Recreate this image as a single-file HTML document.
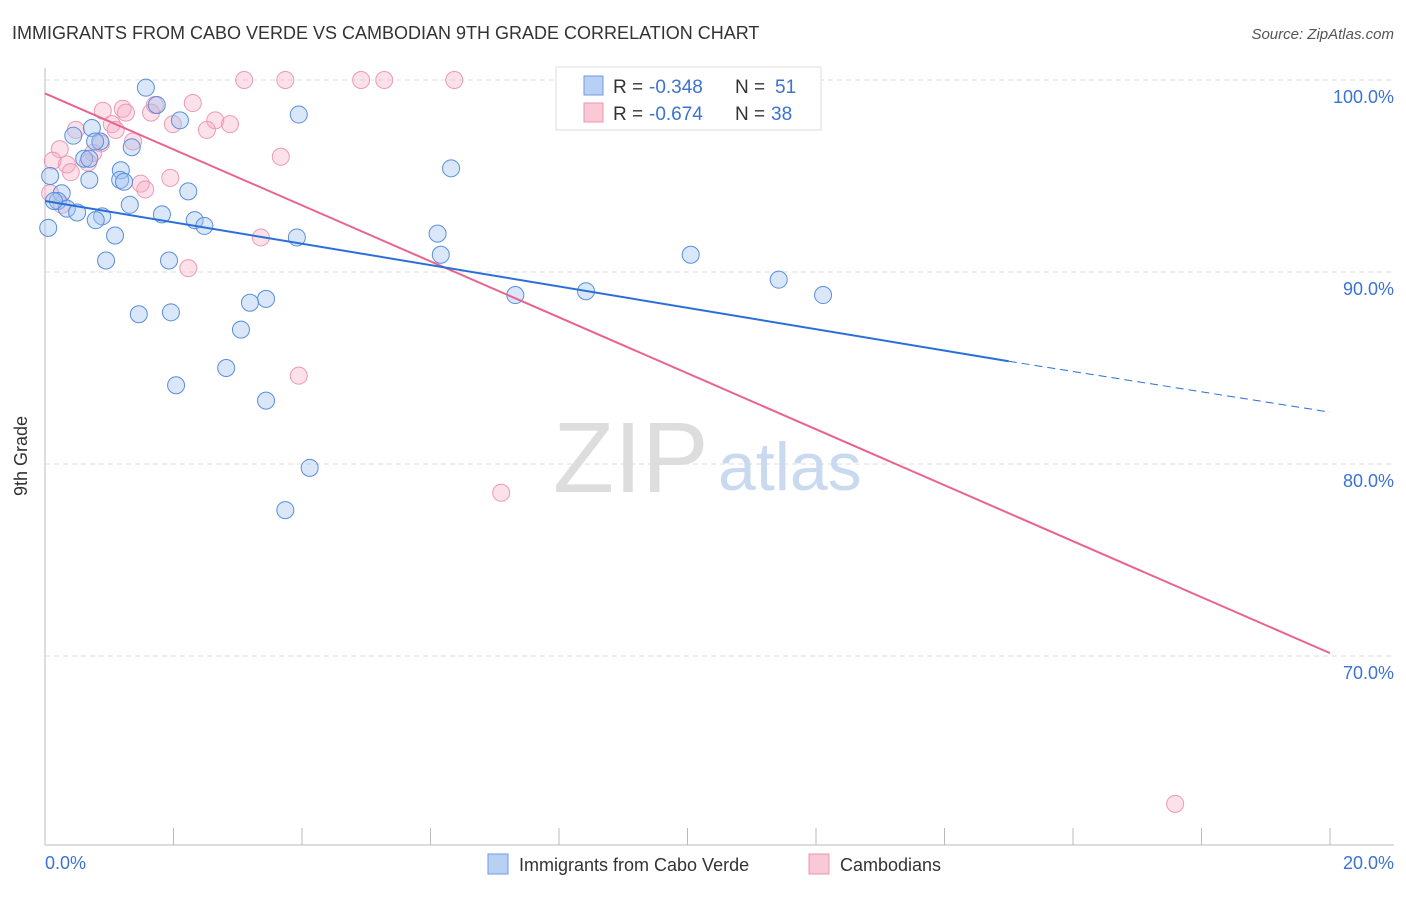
<!DOCTYPE html>
<html><head><meta charset="utf-8"><style>
body{margin:0;background:#fff;font-family:"Liberation Sans",sans-serif;}
svg text{font-family:"Liberation Sans",sans-serif;}
</style></head><body>
<svg width="1406" height="892">
<text x="12" y="39" font-size="18" fill="#333">IMMIGRANTS FROM CABO VERDE VS CAMBODIAN 9TH GRADE CORRELATION CHART</text>
<text x="1394" y="39" font-size="15" fill="#555" font-style="italic" text-anchor="end">Source: ZipAtlas.com</text>
<g id="grid"></g>
<line x1="45" y1="68" x2="45" y2="845" stroke="#bbb"/>
<line x1="45" y1="845" x2="1394" y2="845" stroke="#bbb"/>
<g id="xticks"></g>
<text x="553" y="492" font-size="100" fill="#ddd" font-family="Liberation Serif">ZIP</text>
<text x="718" y="490" font-size="68" fill="#c9daf0">atlas</text>
<g id="pts"></g>
<g id="trend"></g>
<text x="27" y="456" font-size="18" fill="#333" transform="rotate(-90 27 456)" text-anchor="middle">9th Grade</text>
<text x="45" y="869" font-size="18" fill="#3b72d4">0.0%</text>
<text x="1394" y="869" font-size="18" fill="#3b72d4" text-anchor="end">20.0%</text>
<g>
<rect x="556" y="67" width="265" height="63" fill="#fff" stroke="#ddd"/>
<rect x="584" y="76" width="19" height="19" fill="#b8d0f3" stroke="#6f9be0"/>
<rect x="584" y="103" width="19" height="19" fill="#f9c9d6" stroke="#ec95ae"/>
<text x="613" y="93" font-size="19" fill="#333">R =</text>
<text x="649" y="93" font-size="19" fill="#3b72d4">-0.348</text>
<text x="735" y="93" font-size="19" fill="#333">N =</text>
<text x="775" y="93" font-size="19" fill="#3b72d4">51</text>
<text x="613" y="120" font-size="19" fill="#333">R =</text>
<text x="649" y="120" font-size="19" fill="#3b72d4">-0.674</text>
<text x="735" y="120" font-size="19" fill="#333">N =</text>
<text x="771" y="120" font-size="19" fill="#3b72d4">38</text>
</g>
<g>
<rect x="488" y="854" width="20" height="20" fill="#b8d0f3" stroke="#6f9be0"/>
<text x="519" y="871" font-size="18" fill="#333">Immigrants from Cabo Verde</text></g>
<g>
<rect x="809" y="854" width="20" height="20" fill="#f9c9d6" stroke="#ec95ae"/>
<text x="840" y="871" font-size="18" fill="#333">Cambodians</text></g>
</svg>
<script>
const yTicks=[100,90,80,70];
const yTickLabels=["100.0%","90.0%","80.0%","70.0%"];
const xTicks=[2,4,6,8,10,12,14,16,18,20];
const blueX=[1.57,1.74,2.10,3.95,0.73,0.44,0.86,1.35,0.61,0.69,1.18,6.32,0.69,1.17,1.23,0.08,2.23,0.26,0.20,1.32,0.34,0.50,1.82,0.89,0.79,2.33,2.48,0.05,6.11,1.09,3.92,6.16,10.05,0.95,1.93,11.42,7.32,8.42,12.11,3.44,3.19,1.46,1.96,3.05,2.82,2.04,3.44,4.12,3.74,0.78,0.14];
const blueY=[99.6,98.7,97.9,98.2,97.5,97.1,96.8,96.5,95.9,95.9,95.3,95.4,94.8,94.8,94.7,95.0,94.2,94.1,93.7,93.5,93.3,93.1,93.0,92.9,92.7,92.7,92.4,92.3,92.0,91.9,91.8,90.9,90.9,90.6,90.6,89.6,88.8,89.0,88.8,88.6,88.4,87.8,87.9,87.0,85.0,84.1,83.3,79.8,77.6,96.8,93.7];
const pinkX=[3.10,3.74,4.92,5.28,6.37,8.68,1.71,0.90,1.21,2.30,1.26,1.65,2.65,2.88,1.99,2.52,1.04,1.10,0.48,1.37,0.87,0.23,0.75,3.67,0.12,0.67,0.34,0.40,1.95,1.49,1.56,0.26,3.36,2.23,3.95,7.10,17.59,0.08];
const pinkY=[100,100,100,100,100,99.95,98.7,98.4,98.5,98.8,98.3,98.3,97.9,97.7,97.7,97.4,97.7,97.4,97.4,96.8,96.7,96.4,96.2,96.0,95.8,95.7,95.6,95.2,94.9,94.6,94.3,93.5,91.8,90.2,84.6,78.5,62.3,94.1];
const blueTrend=[[0,93.7],[15.0,85.35],[20,82.7]];
const pinkTrend=[[0,99.3],[20,70.15]];
const X=v=>45+v/20*1285, Y=v=>80+(100-v)*19.2;
const NS="http://www.w3.org/2000/svg";
function mk(t,a,p){const e=document.createElementNS(NS,t);for(const k in a)e.setAttribute(k,a[k]);p.appendChild(e);return e;}
const grid=document.getElementById('grid');
yTicks.forEach((t,i)=>{
 const l=mk('line',{x1:45,x2:1394,y1:Y(t),y2:Y(t),stroke:'#ddd','stroke-dasharray':'5,4'},grid);
 
 
 const tx=mk('text',{x:1394,y:Y(t)+23,'font-size':18,fill:'#3b72d4','text-anchor':'end'},grid);
 tx.textContent=yTickLabels[i];
 
 
});
const xt=document.getElementById('xticks');
xTicks.forEach(t=>{
 const l=mk('line',{x1:X(t),x2:X(t),y1:828,y2:845,stroke:'#bbb'},xt);
 
 
});
const pts=document.getElementById('pts');
pinkX.forEach((x,i)=>{
 const c=mk('circle',{cx:X(x),cy:Y(pinkY[i]),r:8.5,fill:'rgba(246,170,195,0.35)',stroke:'#ec9ab2','stroke-width':1},pts);
 
 
});
blueX.forEach((x,i)=>{
 const c=mk('circle',{cx:X(x),cy:Y(blueY[i]),r:8.5,fill:'rgba(160,195,240,0.4)',stroke:'#5a8ee0','stroke-width':1},pts);
 
 
});
const tr=document.getElementById('trend');
let a=mk('line',{x1:X(pinkTrend[0][0]),y1:Y(pinkTrend[0][1]),x2:X(pinkTrend[1][0]),y2:Y(pinkTrend[1][1]),stroke:'#e8648f','stroke-width':2},tr);


let b=mk('line',{x1:X(blueTrend[0][0]),y1:Y(blueTrend[0][1]),x2:X(blueTrend[1][0]),y2:Y(blueTrend[1][1]),stroke:'#2a6fd8','stroke-width':2},tr);


let d=mk('line',{x1:X(blueTrend[1][0]),y1:Y(blueTrend[1][1]),x2:X(blueTrend[2][0]),y2:Y(blueTrend[2][1]),stroke:'#2a6fd8','stroke-width':1,'stroke-dasharray':'8,5'},tr);


</script>
</body></html>
